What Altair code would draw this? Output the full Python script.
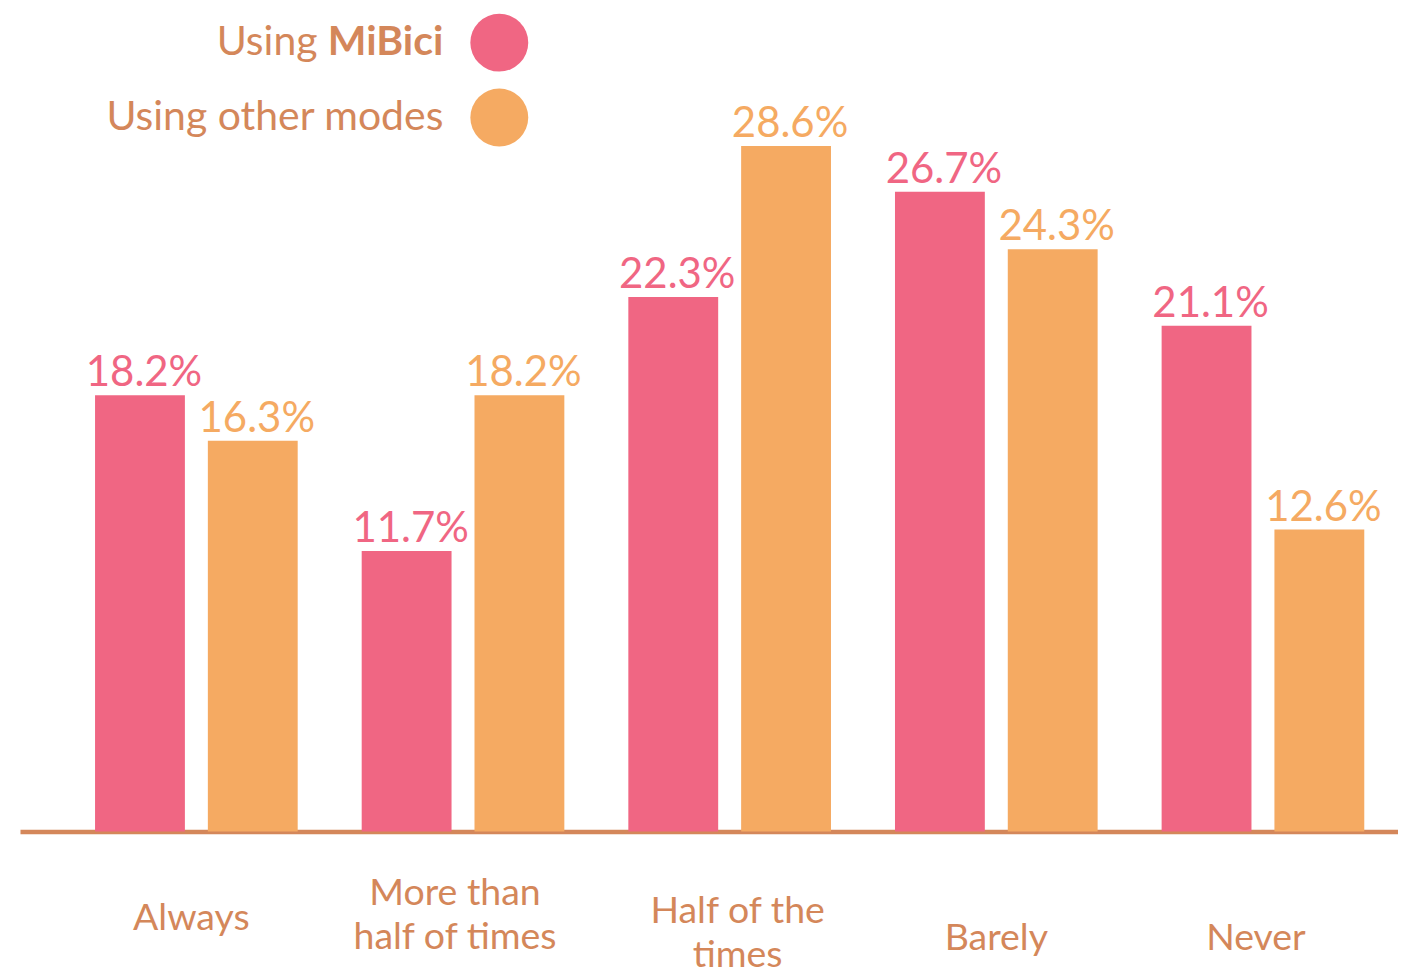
import altair as alt
import pandas as pd

categories = ["Always", "More than half of times", "Half of the times", "Barely", "Never"]
series_names = ["Using MiBici", "Using other modes"]
mibici = [18.2, 11.7, 22.3, 26.7, 21.1]
other = [16.3, 18.2, 28.6, 24.3, 12.6]

legend_regular = ["Using", "Using other modes"]
legend_bold = ["MiBici", ""]

PINK = "#F06683"
ORANGE = "#F5AA62"
BROWN = "#D4875A"
FONT = "Lato"

rows = []
for c, a, b in zip(categories, mibici, other):
    rows.append({"category": c, "series": series_names[0], "value": a})
    rows.append({"category": c, "series": series_names[1], "value": b})
df = pd.DataFrame(rows)

leg = pd.DataFrame({"series": series_names, "regular": legend_regular, "bold": legend_bold})

color = alt.Color("series:N", scale=alt.Scale(domain=series_names, range=[PINK, ORANGE]), legend=None)

label_expr = ("datum.label == 'More than half of times' ? ['More than', 'half of times'] : "
              "datum.label == 'Half of the times' ? ['Half of the', 'times'] : datum.label")


def per_label(values, default):
    return {
        "condition": [
            {"test": f"datum.value == '{c}'", "value": v}
            for c, v in zip(categories, values)
        ],
        "value": default,
    }


x = alt.X(
    "category:N",
    sort=categories,
    scale=alt.Scale(paddingInner=0.24, paddingOuter=0.204, align=0.69),
    axis=alt.Axis(
        title=None,
        domainColor=BROWN,
        domainWidth=4.5,
        ticks=False,
        labelAngle=0,
        labelFont=FONT,
        labelFontSize=37.5,
        labelColor=BROWN,
        labelBaseline="middle",
        labelLineHeight=44,
        labelLimit=500,
        labelOverlap=False,
        labelExpr=label_expr,
        labelPadding=per_label([87, 62, 80, 107, 107], 87),
        labelOffset=per_label([-5, -8, 8, 0, -7], 0),
    ),
)
xoff = alt.XOffset("series:N", scale=alt.Scale(domain=series_names, paddingInner=0.2035, paddingOuter=0))
y = alt.Y("value:Q", scale=alt.Scale(domain=[0, 30]), axis=None)

base = alt.Chart(df).encode(x=x, xOffset=xoff, y=y, color=color)

bars = base.mark_bar()
labels = base.transform_calculate(
    lbl="format(datum.value, '.1f') + '%'"
).mark_text(font=FONT, fontSize=42, baseline="alphabetic", dy=-9, dx=4, align="center").encode(text="lbl:N")

ly = alt.Y("series:N", scale=alt.Scale(domain=series_names, range=[-70, 5], padding=0), axis=None)

leg_base = alt.Chart(leg)
leg_circles = leg_base.mark_point(shape="circle", filled=True, opacity=1, size=3364).encode(
    x=alt.value(480), y=ly, color=color
)
leg_bold = leg_base.mark_text(font=FONT, fontSize=41, fontWeight="bold", align="right",
                              baseline="middle", color=BROWN).encode(
    x=alt.value(424), y=ly, text="bold:N"
)
leg_reg1 = leg_base.transform_filter("datum.bold != ''").mark_text(
    font=FONT, fontSize=41, align="right", baseline="middle", color=BROWN
).encode(x=alt.value(298), y=ly, text="regular:N")
leg_reg2 = leg_base.transform_filter("datum.bold == ''").mark_text(
    font=FONT, fontSize=41, align="right", baseline="middle", color=BROWN
).encode(x=alt.value(424), y=ly, text="regular:N")

chart = alt.layer(bars, labels, leg_circles, leg_bold, leg_reg1, leg_reg2).resolve_scale(
    y="independent"
).properties(
    width=1380,
    height=720,
    autosize=alt.AutoSizeParams(type="none"),
    padding={"left": 12, "top": 104, "right": 0, "bottom": 142},
).configure(font=FONT).configure_view(stroke=None)

chart.save("out.html", embed_options={"renderer": "svg", "actions": False})
